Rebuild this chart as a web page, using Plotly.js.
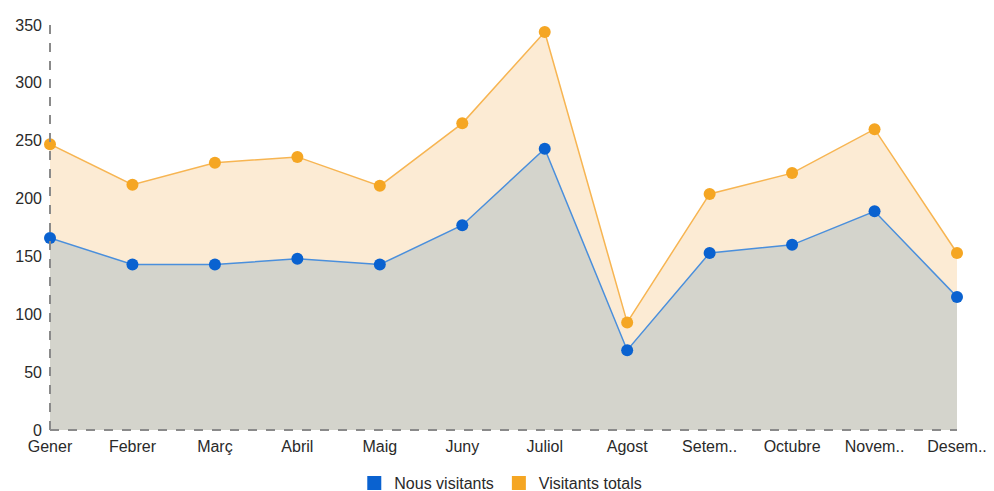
<!DOCTYPE html>
<html>
<head>
<meta charset="utf-8">
<script src="https://cdn.plot.ly/plotly-3.0.1.min.js"></script>
<style>html,body{margin:0;padding:0;background:#fff;}#chart{width:994px;height:491px;}</style>
</head>
<body>
<div id="chart"></div>
<script>
const months = ["Gener","Febrer","Març","Abril","Maig","Juny","Juliol","Agost","Setem..","Octubre","Novem..","Desem.."];
const nousVisitants = [166, 143, 143, 148, 143, 177, 243, 69, 153, 160, 189, 115];
const visitantsTotals = [247, 212, 231, 236, 211, 265, 344, 93, 204, 222, 260, 153];
const yTicks = [0, 50, 100, 150, 200, 250, 300, 350];

const blue = "#0a62d0", blueLine = "#4a8fdc";
const orange = "#f5a623", orangeLine = "#f7b552";

const traces = [
  {
    x: months, y: visitantsTotals, type: "scatter", mode: "lines+markers",
    fill: "tozeroy", fillcolor: "#fcebd4", cliponaxis: false,
    line: {color: orangeLine, width: 1.5},
    marker: {color: orange, size: 12},
    showlegend: false, hoverinfo: "x+y"
  },
  {
    x: months, y: nousVisitants, type: "scatter", mode: "lines+markers",
    fill: "tozeroy", fillcolor: "#d4d4cc", cliponaxis: false,
    line: {color: blueLine, width: 1.5},
    marker: {color: blue, size: 12},
    showlegend: false, hoverinfo: "x+y"
  },
  {
    x: [null], y: [null], type: "scatter", mode: "markers", name: "Nous visitants",
    marker: {color: blue, symbol: "square", size: 14}
  },
  {
    x: [null], y: [null], type: "scatter", mode: "markers", name: "Visitants totals",
    marker: {color: orange, symbol: "square", size: 14}
  }
];

const layout = {
  width: 994, height: 491,
  margin: {l: 50, r: 37, t: 25, b: 61, autoexpand: false},
  paper_bgcolor: "#fff", plot_bgcolor: "#fff",
  font: {family: "Liberation Sans, Arial, sans-serif", size: 16, color: "#2a2a2a"},
  xaxis: {
    type: "category", range: [0, 11], showgrid: false, zeroline: false,
    showline: false, ticks: "", ticklabelstandoff: 5, fixedrange: true,
    tickfont: {size: 16, color: "#2a2a2a"}
  },
  yaxis: {
    range: [0, 350], tickvals: yTicks, showgrid: false, zeroline: false,
    showline: false, ticks: "", ticklabelstandoff: 7, fixedrange: true,
    tickfont: {size: 16, color: "#2a2a2a"}
  },
  shapes: [
    {type: "line", xref: "paper", yref: "paper", x0: 0, x1: 0, y0: 0, y1: 1,
     line: {color: "#8a8a8a", width: 2, dash: "dash"}},
    {type: "line", xref: "paper", yref: "paper", x0: 0, x1: 1, y0: 0, y1: 0,
     line: {color: "#8a8a8a", width: 2, dash: "dash"}}
  ],
  legend: {
    orientation: "h", x: 0.497, xanchor: "center", y: -0.131, yanchor: "middle",
    font: {size: 16, color: "#2a2a2a"}, itemwidth: 30
  },
  showlegend: true
};

Plotly.newPlot("chart", traces, layout, {displayModeBar: false, staticPlot: true});
</script>
</body>
</html>
